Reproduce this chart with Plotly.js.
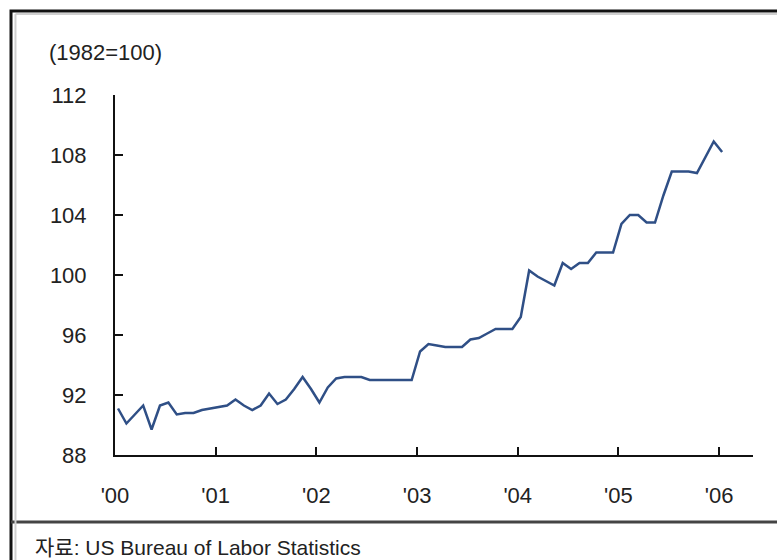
<!DOCTYPE html>
<html>
<head>
<meta charset="utf-8">
<script src="https://cdn.plot.ly/plotly-3.0.1.min.js"></script>
<style>
html,body{margin:0;padding:0;background:#fff;}
#chart{width:777px;height:560px;}
</style>
</head>
<body>
<div id="chart"></div>
<script>
// Monthly index, Jan 2000 .. Jan 2006 (1982=100)
const months = [];
for (let i = 0; i <= 72; i++) months.push(i);
const values = [
  91.1, 90.1, 90.7, 91.3, 89.7, 91.3, 91.5, 90.7, 90.8, 90.8, 91.0, 91.1,
  91.2, 91.3, 91.7, 91.3, 91.0, 91.3, 92.1, 91.4, 91.7, 92.4, 93.2, 92.4,
  91.5, 92.5, 93.1, 93.2, 93.2, 93.2, 93.0, 93.0, 93.0, 93.0, 93.0, 93.0,
  94.9, 95.4, 95.3, 95.2, 95.2, 95.2, 95.7, 95.8, 96.1, 96.4, 96.4, 96.4,
  97.2, 100.3, 99.9, 99.6, 99.3, 100.8, 100.4, 100.8, 100.8, 101.5, 101.5, 101.5,
  103.4, 104.0, 104.0, 103.5, 103.5, 105.3, 106.9, 106.9, 106.9, 106.8, 107.9, 108.9,
  108.2
];
const yearLabels = ["'00", "'01", "'02", "'03", "'04", "'05", "'06"];
const yearTickPos = [-0.36, 11.64, 23.64, 35.64, 47.64, 59.64, 71.64];
const yTicks = [88, 92, 96, 100, 104, 108, 112];
const unitLabel = "(1982=100)";
const sourceLabel = "자료: US Bureau of Labor Statistics";

const fontFam = "Liberation Sans, Arial, Noto Sans CJK KR, sans-serif";

const trace = {
  x: months,
  y: values,
  type: 'scatter',
  mode: 'lines',
  line: {color: '#2f4f86', width: 2.5},
  hoverinfo: 'skip'
};

const layout = {
  width: 777,
  height: 560,
  margin: {l: 115, r: 24, t: 95, b: 105, pad: 0},
  paper_bgcolor: '#ffffff',
  plot_bgcolor: '#ffffff',
  showlegend: false,
  font: {family: fontFam, color: '#222', size: 22},
  xaxis: {
    range: [-0.36, 75.68],
    tickmode: 'array',
    tickvals: yearTickPos,
    ticktext: yearLabels,
    ticks: 'inside',
    ticklen: 8,
    tickwidth: 2,
    tickcolor: '#111',
    showline: true,
    linecolor: '#111',
    linewidth: 2,
    showgrid: false,
    zeroline: false,
    ticklabelstandoff: 20,
    tickfont: {family: fontFam, size: 22, color: '#222'}
  },
  yaxis: {
    range: [88, 112],
    tickmode: 'array',
    tickvals: yTicks,
    ticktext: yTicks.map(String),
    ticks: 'inside',
    ticklen: 8,
    tickwidth: 2,
    tickcolor: '#111',
    showline: true,
    linecolor: '#111',
    linewidth: 2,
    showgrid: false,
    zeroline: false,
    ticklabelstandoff: 22,
    tickfont: {family: fontFam, size: 22, color: '#222'}
  },
  annotations: [
    {
      text: unitLabel, xref: 'paper', yref: 'paper',
      x: -0.1066, y: 1.1167, xanchor: 'left', yanchor: 'middle',
      showarrow: false, font: {family: fontFam, size: 22, color: '#222'}
    },
    {
      text: sourceLabel, xref: 'paper', yref: 'paper',
      x: -0.1285, y: -0.2583, xanchor: 'left', yanchor: 'middle',
      showarrow: false, font: {family: fontFam, size: 21, color: '#222'}
    }
  ],
  shapes: [
    {type: 'rect', xref: 'paper', yref: 'paper',
     x0: -0.1630, x1: 1.15, y0: -0.40, y1: 1.2333,
     line: {color: '#111', width: 3}},
    {type: 'line', xref: 'paper', yref: 'paper',
     x0: -0.1630, x1: 1.15, y0: -0.1861, y1: -0.1861,
     line: {color: '#444', width: 3}},
    {type: 'line', xref: 'paper', yref: 'paper',
     x0: -0.1560, x1: 1.15, y0: 1.2250, y1: 1.2250,
     line: {color: '#cfcfcf', width: 2}},
    {type: 'line', xref: 'paper', yref: 'paper',
     x0: -0.1560, x1: -0.1560, y0: -0.40, y1: 1.2250,
     line: {color: '#cfcfcf', width: 2}}
  ]
};

Plotly.newPlot('chart', [trace], layout, {displayModeBar: false, staticPlot: true});
</script>
</body>
</html>
